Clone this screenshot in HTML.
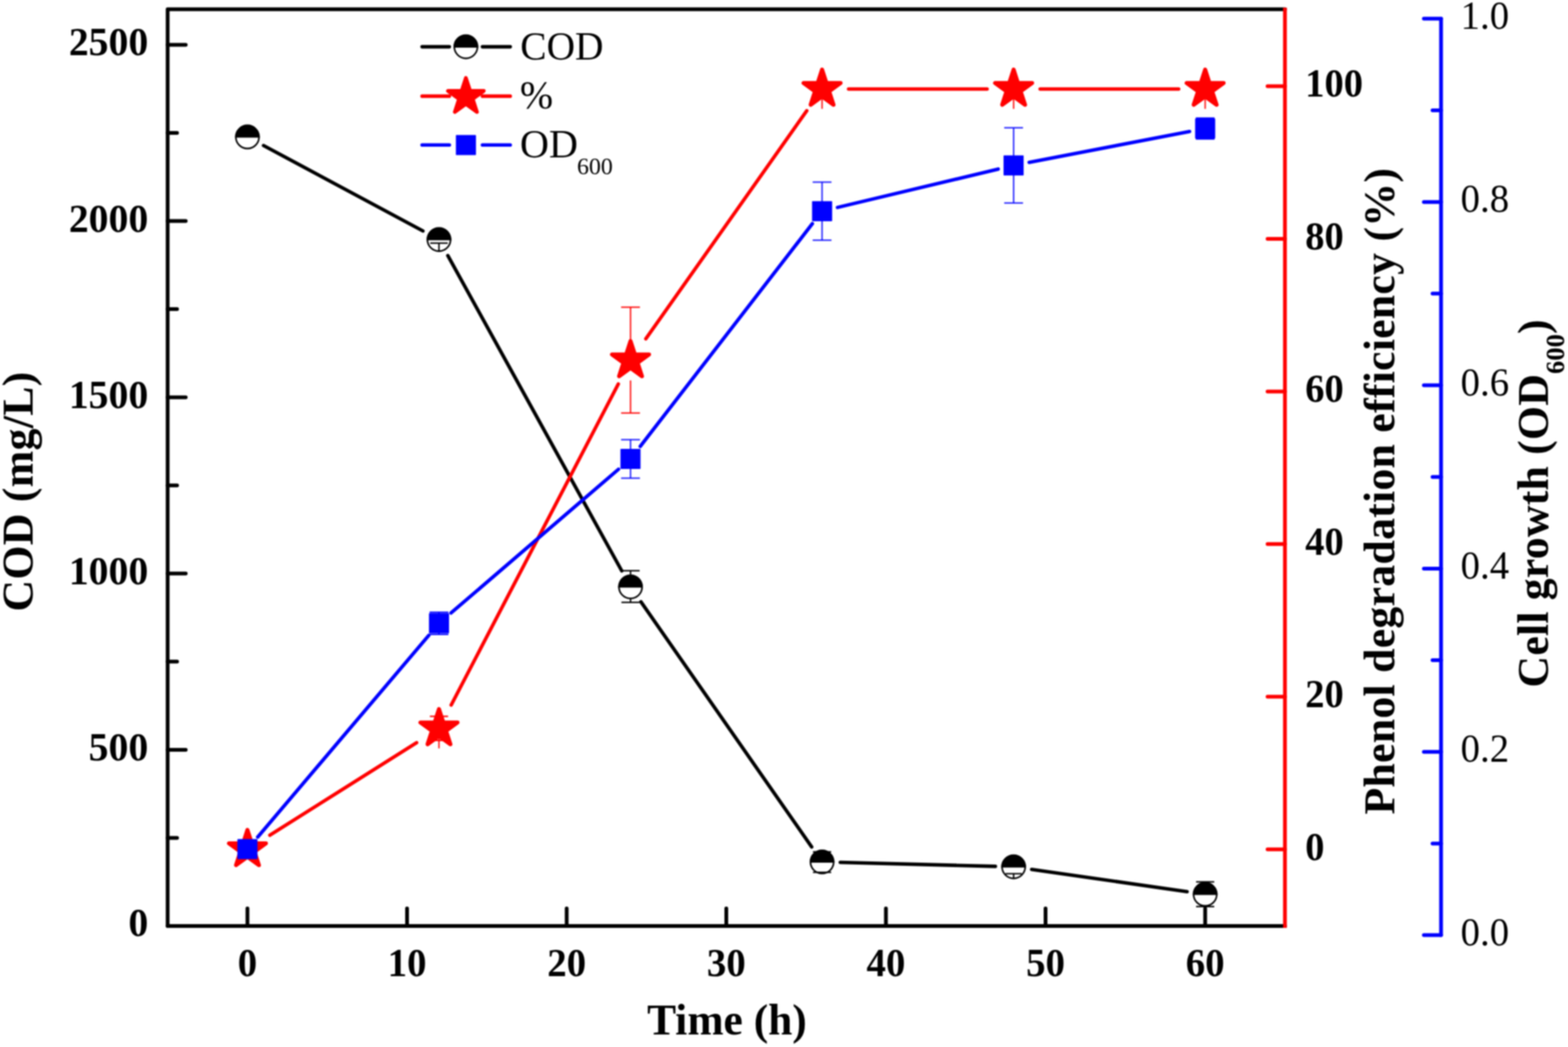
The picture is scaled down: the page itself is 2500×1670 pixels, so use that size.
<!DOCTYPE html>
<html lang="en"><head><meta charset="utf-8"><title>COD, phenol degradation efficiency and cell growth over time</title>
<style>
html,body{margin:0;padding:0;background:#fff;}
body{width:2500px;height:1670px;overflow:hidden;}
svg{display:block;}
text{font-family:"Liberation Serif",serif;fill:#000;}
.b{font-weight:bold;}
.tk{font-size:64px;}
.tt{font-size:70px;font-weight:bold;}
</style></head><body>
<svg width="2500" height="1670" viewBox="0 0 2500 1670">
<defs><filter id="soft" filterUnits="userSpaceOnUse" x="0" y="0" width="2500" height="1670" color-interpolation-filters="sRGB"><feGaussianBlur stdDeviation="0.8"/></filter></defs>
<rect x="0" y="0" width="2500" height="1670" fill="#ffffff"/>
<g filter="url(#soft)">
<rect x="-10" y="-10" width="2520" height="1690" fill="#ffffff"/>
<g id="axes">
<path d="M2048.7 14.7 L267.3 14.7 L267.3 1477.0" fill="none" stroke="#000" stroke-width="6.00" stroke-linejoin="round" stroke-linecap="round"/>
<line x1="267.3" y1="1477.0" x2="2048.7" y2="1477.0" stroke="#000" stroke-width="6.00" stroke-linecap="round"/>
<line x1="267.3" y1="1336.5" x2="282.3" y2="1336.5" stroke="#000" stroke-width="6.00" stroke-linecap="round"/>
<line x1="267.3" y1="1195.9" x2="296.1" y2="1195.9" stroke="#000" stroke-width="6.00" stroke-linecap="round"/>
<line x1="267.3" y1="1055.3" x2="282.3" y2="1055.3" stroke="#000" stroke-width="6.00" stroke-linecap="round"/>
<line x1="267.3" y1="914.8" x2="296.1" y2="914.8" stroke="#000" stroke-width="6.00" stroke-linecap="round"/>
<line x1="267.3" y1="774.2" x2="282.3" y2="774.2" stroke="#000" stroke-width="6.00" stroke-linecap="round"/>
<line x1="267.3" y1="633.7" x2="296.1" y2="633.7" stroke="#000" stroke-width="6.00" stroke-linecap="round"/>
<line x1="267.3" y1="493.1" x2="282.3" y2="493.1" stroke="#000" stroke-width="6.00" stroke-linecap="round"/>
<line x1="267.3" y1="352.6" x2="296.1" y2="352.6" stroke="#000" stroke-width="6.00" stroke-linecap="round"/>
<line x1="267.3" y1="212.0" x2="282.3" y2="212.0" stroke="#000" stroke-width="6.00" stroke-linecap="round"/>
<line x1="267.3" y1="71.5" x2="296.1" y2="71.5" stroke="#000" stroke-width="6.00" stroke-linecap="round"/>
<line x1="394.5" y1="1477.0" x2="394.5" y2="1449.0" stroke="#000" stroke-width="6.00" stroke-linecap="round"/>
<line x1="649.0" y1="1477.0" x2="649.0" y2="1449.0" stroke="#000" stroke-width="6.00" stroke-linecap="round"/>
<line x1="903.5" y1="1477.0" x2="903.5" y2="1449.0" stroke="#000" stroke-width="6.00" stroke-linecap="round"/>
<line x1="1158.0" y1="1477.0" x2="1158.0" y2="1449.0" stroke="#000" stroke-width="6.00" stroke-linecap="round"/>
<line x1="1412.5" y1="1477.0" x2="1412.5" y2="1449.0" stroke="#000" stroke-width="6.00" stroke-linecap="round"/>
<line x1="1667.0" y1="1477.0" x2="1667.0" y2="1449.0" stroke="#000" stroke-width="6.00" stroke-linecap="round"/>
<line x1="1921.5" y1="1477.0" x2="1921.5" y2="1449.0" stroke="#000" stroke-width="6.00" stroke-linecap="round"/>
<line x1="2048.7" y1="12.3" x2="2048.7" y2="1480.0" stroke="#ff0000" stroke-width="6.00" stroke-linecap="butt"/>
<line x1="2048.7" y1="1354.8" x2="2021.0" y2="1354.8" stroke="#ff0000" stroke-width="6.00" stroke-linecap="round"/>
<line x1="2048.7" y1="1111.3" x2="2021.0" y2="1111.3" stroke="#ff0000" stroke-width="6.00" stroke-linecap="round"/>
<line x1="2048.7" y1="867.8" x2="2021.0" y2="867.8" stroke="#ff0000" stroke-width="6.00" stroke-linecap="round"/>
<line x1="2048.7" y1="624.4" x2="2021.0" y2="624.4" stroke="#ff0000" stroke-width="6.00" stroke-linecap="round"/>
<line x1="2048.7" y1="380.9" x2="2021.0" y2="380.9" stroke="#ff0000" stroke-width="6.00" stroke-linecap="round"/>
<line x1="2048.7" y1="137.4" x2="2021.0" y2="137.4" stroke="#ff0000" stroke-width="6.00" stroke-linecap="round"/>
<line x1="2297.6" y1="29.8" x2="2297.6" y2="1491.6" stroke="#0000ff" stroke-width="6.00" stroke-linecap="round"/>
<line x1="2297.6" y1="1491.6" x2="2270.2" y2="1491.6" stroke="#0000ff" stroke-width="6.00" stroke-linecap="round"/>
<line x1="2297.6" y1="1345.4" x2="2284.0" y2="1345.4" stroke="#0000ff" stroke-width="6.00" stroke-linecap="round"/>
<line x1="2297.6" y1="1199.2" x2="2270.2" y2="1199.2" stroke="#0000ff" stroke-width="6.00" stroke-linecap="round"/>
<line x1="2297.6" y1="1053.1" x2="2284.0" y2="1053.1" stroke="#0000ff" stroke-width="6.00" stroke-linecap="round"/>
<line x1="2297.6" y1="906.9" x2="2270.2" y2="906.9" stroke="#0000ff" stroke-width="6.00" stroke-linecap="round"/>
<line x1="2297.6" y1="760.7" x2="2284.0" y2="760.7" stroke="#0000ff" stroke-width="6.00" stroke-linecap="round"/>
<line x1="2297.6" y1="614.5" x2="2270.2" y2="614.5" stroke="#0000ff" stroke-width="6.00" stroke-linecap="round"/>
<line x1="2297.6" y1="468.3" x2="2284.0" y2="468.3" stroke="#0000ff" stroke-width="6.00" stroke-linecap="round"/>
<line x1="2297.6" y1="322.2" x2="2270.2" y2="322.2" stroke="#0000ff" stroke-width="6.00" stroke-linecap="round"/>
<line x1="2297.6" y1="176.0" x2="2284.0" y2="176.0" stroke="#0000ff" stroke-width="6.00" stroke-linecap="round"/>
<line x1="2297.6" y1="29.8" x2="2270.2" y2="29.8" stroke="#0000ff" stroke-width="6.00" stroke-linecap="round"/>
</g>
<g id="cod">
<line x1="420.2" y1="232.1" x2="674.3" y2="368.4" stroke="#000" stroke-width="5.60" stroke-linecap="round"/>
<line x1="714.0" y1="407.6" x2="991.3" y2="910.5" stroke="#000" stroke-width="5.60" stroke-linecap="round"/>
<line x1="1021.9" y1="959.9" x2="1294.1" y2="1350.9" stroke="#000" stroke-width="5.60" stroke-linecap="round"/>
<line x1="1339.8" y1="1375.5" x2="1587.0" y2="1381.9" stroke="#000" stroke-width="5.60" stroke-linecap="round"/>
<line x1="1644.9" y1="1386.7" x2="1892.7" y2="1422.3" stroke="#000" stroke-width="5.60" stroke-linecap="round"/>
<circle cx="394.5" cy="218.4" r="18.5" fill="#fff" stroke="#000" stroke-width="2.6"/>
<path d="M374.7 219.6 A19.8 19.8 0 0 1 414.3 219.6 Z" fill="#000"/>
<circle cx="699.9" cy="382.1" r="18.5" fill="#fff" stroke="#000" stroke-width="2.6"/>
<path d="M680.1 383.3 A19.8 19.8 0 0 1 719.7 383.3 Z" fill="#000"/>
<circle cx="1005.3" cy="936.0" r="18.5" fill="#fff" stroke="#000" stroke-width="2.6"/>
<path d="M985.5 937.2 A19.8 19.8 0 0 1 1025.1 937.2 Z" fill="#000"/>
<circle cx="1310.7" cy="1374.8" r="18.5" fill="#fff" stroke="#000" stroke-width="2.6"/>
<path d="M1290.9 1376.0 A19.8 19.8 0 0 1 1330.5 1376.0 Z" fill="#000"/>
<circle cx="1616.1" cy="1382.6" r="18.5" fill="#fff" stroke="#000" stroke-width="2.6"/>
<path d="M1596.3 1383.8 A19.8 19.8 0 0 1 1635.9 1383.8 Z" fill="#000"/>
<circle cx="1921.5" cy="1426.4" r="18.5" fill="#fff" stroke="#000" stroke-width="2.6"/>
<path d="M1901.7 1427.6 A19.8 19.8 0 0 1 1941.3 1427.6 Z" fill="#000"/>
<line x1="685.9" y1="387.8" x2="713.9" y2="387.8" stroke="#000" stroke-width="2.30" stroke-linecap="butt"/>
<line x1="699.9" y1="387.8" x2="699.9" y2="400.0" stroke="#000" stroke-width="2.30" stroke-linecap="butt"/>
<line x1="990.8" y1="910.3" x2="1019.8" y2="910.3" stroke="#000" stroke-width="2.30" stroke-linecap="butt"/>
<line x1="1005.3" y1="910.3" x2="1005.3" y2="917.0" stroke="#000" stroke-width="2.30" stroke-linecap="butt"/>
<line x1="990.8" y1="960.8" x2="1019.8" y2="960.8" stroke="#000" stroke-width="2.30" stroke-linecap="butt"/>
<line x1="1005.3" y1="955.0" x2="1005.3" y2="960.8" stroke="#000" stroke-width="2.30" stroke-linecap="butt"/>
<line x1="1296.2" y1="1358.7" x2="1325.2" y2="1358.7" stroke="#000" stroke-width="2.30" stroke-linecap="butt"/>
<line x1="1296.2" y1="1391.4" x2="1325.2" y2="1391.4" stroke="#000" stroke-width="2.30" stroke-linecap="butt"/>
<line x1="1603.1" y1="1393.6" x2="1629.1" y2="1393.6" stroke="#000" stroke-width="2.30" stroke-linecap="butt"/>
<line x1="1616.1" y1="1393.6" x2="1616.1" y2="1401.0" stroke="#000" stroke-width="2.30" stroke-linecap="butt"/>
<line x1="1907.0" y1="1406.6" x2="1936.0" y2="1406.6" stroke="#000" stroke-width="2.30" stroke-linecap="butt"/>
<line x1="1907.0" y1="1446.0" x2="1936.0" y2="1446.0" stroke="#000" stroke-width="2.30" stroke-linecap="butt"/>
</g>
<g id="phenol">
<line x1="430.3" y1="1332.2" x2="664.2" y2="1184.6" stroke="#ff0000" stroke-width="5.60" stroke-linecap="round"/>
<line x1="719.4" y1="1124.5" x2="985.8" y2="612.5" stroke="#ff0000" stroke-width="5.60" stroke-linecap="round"/>
<line x1="1029.7" y1="540.4" x2="1286.3" y2="176.6" stroke="#ff0000" stroke-width="5.60" stroke-linecap="round"/>
<line x1="1353.0" y1="142.0" x2="1573.8" y2="142.0" stroke="#ff0000" stroke-width="5.60" stroke-linecap="round"/>
<line x1="1658.4" y1="142.0" x2="1879.2" y2="142.0" stroke="#ff0000" stroke-width="5.60" stroke-linecap="round"/>
<line x1="1005.3" y1="490.0" x2="1005.3" y2="560.0" stroke="#ff0000" stroke-width="2.30" stroke-linecap="butt" stroke-opacity="0.9"/>
<line x1="1005.3" y1="606.8" x2="1005.3" y2="658.8" stroke="#ff0000" stroke-width="2.30" stroke-linecap="butt" stroke-opacity="0.9"/>
<line x1="990.3" y1="490.0" x2="1020.3" y2="490.0" stroke="#ff0000" stroke-width="2.30" stroke-linecap="butt" stroke-opacity="0.9"/>
<line x1="990.3" y1="658.8" x2="1020.3" y2="658.8" stroke="#ff0000" stroke-width="2.30" stroke-linecap="butt" stroke-opacity="0.9"/>
<line x1="1310.7" y1="142.0" x2="1310.7" y2="173.6" stroke="#ff0000" stroke-width="2.30" stroke-linecap="butt" stroke-opacity="0.9"/>
<line x1="1616.1" y1="142.0" x2="1616.1" y2="173.6" stroke="#ff0000" stroke-width="2.30" stroke-linecap="butt" stroke-opacity="0.9"/>
<line x1="1921.5" y1="142.0" x2="1921.5" y2="173.6" stroke="#ff0000" stroke-width="2.30" stroke-linecap="butt" stroke-opacity="0.9"/>
<line x1="699.9" y1="1162.0" x2="699.9" y2="1193.7" stroke="#ff0000" stroke-width="2.30" stroke-linecap="butt" stroke-opacity="0.9"/>
<line x1="685.4" y1="1142.6" x2="714.4" y2="1142.6" stroke="#ff0000" stroke-width="2.30" stroke-linecap="butt"/>
<line x1="685.4" y1="1181.0" x2="714.4" y2="1181.0" stroke="#ff0000" stroke-width="2.30" stroke-linecap="butt"/>
<polygon points="394.5,1323.8 401.5,1345.2 424.0,1345.2 405.8,1358.5 412.8,1379.9 394.5,1366.6 376.3,1379.9 383.3,1358.5 365.1,1345.2 387.6,1345.2" fill="#ff0000" stroke="#ff0000" stroke-width="6.4" stroke-linejoin="round"/>
<polygon points="699.9,1131.0 706.9,1152.4 729.4,1152.4 711.2,1165.7 718.1,1187.1 699.9,1173.8 681.7,1187.1 688.7,1165.7 670.4,1152.4 693.0,1152.4" fill="#ff0000" stroke="#ff0000" stroke-width="6.4" stroke-linejoin="round"/>
<polygon points="1005.3,544.0 1012.3,565.4 1034.8,565.4 1016.6,578.7 1023.5,600.1 1005.3,586.8 987.1,600.1 994.0,578.7 975.8,565.4 998.3,565.4" fill="#ff0000" stroke="#ff0000" stroke-width="6.4" stroke-linejoin="round"/>
<polygon points="1310.7,111.0 1317.7,132.4 1340.2,132.4 1322.0,145.7 1328.9,167.1 1310.7,153.8 1292.5,167.1 1299.4,145.7 1281.2,132.4 1303.7,132.4" fill="#ff0000" stroke="#ff0000" stroke-width="6.4" stroke-linejoin="round"/>
<polygon points="1616.1,111.0 1623.0,132.4 1645.6,132.4 1627.3,145.7 1634.3,167.1 1616.1,153.8 1597.9,167.1 1604.8,145.7 1586.6,132.4 1609.1,132.4" fill="#ff0000" stroke="#ff0000" stroke-width="6.4" stroke-linejoin="round"/>
<polygon points="1921.5,111.0 1928.4,132.4 1950.9,132.4 1932.7,145.7 1939.7,167.1 1921.5,153.8 1903.2,167.1 1910.2,145.7 1892.0,132.4 1914.5,132.4" fill="#ff0000" stroke="#ff0000" stroke-width="6.4" stroke-linejoin="round"/>
</g>
<g id="od600">
<line x1="410.9" y1="1335.1" x2="683.6" y2="1013.5" stroke="#0000ff" stroke-width="5.60" stroke-linecap="round"/>
<line x1="719.1" y1="977.7" x2="986.1" y2="748.5" stroke="#0000ff" stroke-width="5.60" stroke-linecap="round"/>
<line x1="1020.8" y1="712.0" x2="1295.2" y2="356.8" stroke="#0000ff" stroke-width="5.60" stroke-linecap="round"/>
<line x1="1335.3" y1="330.9" x2="1591.5" y2="269.7" stroke="#0000ff" stroke-width="5.60" stroke-linecap="round"/>
<line x1="1640.9" y1="259.0" x2="1896.6" y2="209.8" stroke="#0000ff" stroke-width="5.60" stroke-linecap="round"/>
<line x1="699.9" y1="976.6" x2="699.9" y2="1011.8" stroke="#0000ff" stroke-width="2.30" stroke-linecap="butt"/>
<line x1="684.9" y1="976.6" x2="714.9" y2="976.6" stroke="#0000ff" stroke-width="2.30" stroke-linecap="butt"/>
<line x1="684.9" y1="1011.8" x2="714.9" y2="1011.8" stroke="#0000ff" stroke-width="2.30" stroke-linecap="butt"/>
<line x1="1005.3" y1="701.3" x2="1005.3" y2="762.7" stroke="#0000ff" stroke-width="2.30" stroke-linecap="butt" stroke-opacity="0.85"/>
<line x1="990.3" y1="701.3" x2="1020.3" y2="701.3" stroke="#0000ff" stroke-width="2.30" stroke-linecap="butt" stroke-opacity="0.85"/>
<line x1="990.3" y1="762.7" x2="1020.3" y2="762.7" stroke="#0000ff" stroke-width="2.30" stroke-linecap="butt" stroke-opacity="0.85"/>
<line x1="1310.7" y1="290.5" x2="1310.7" y2="383.1" stroke="#0000ff" stroke-width="2.30" stroke-linecap="butt" stroke-opacity="0.85"/>
<line x1="1295.7" y1="290.5" x2="1325.7" y2="290.5" stroke="#0000ff" stroke-width="2.30" stroke-linecap="butt" stroke-opacity="0.85"/>
<line x1="1295.7" y1="383.1" x2="1325.7" y2="383.1" stroke="#0000ff" stroke-width="2.30" stroke-linecap="butt" stroke-opacity="0.85"/>
<line x1="1616.1" y1="203.8" x2="1616.1" y2="323.8" stroke="#0000ff" stroke-width="2.30" stroke-linecap="butt" stroke-opacity="0.85"/>
<line x1="1601.1" y1="203.8" x2="1631.1" y2="203.8" stroke="#0000ff" stroke-width="2.30" stroke-linecap="butt" stroke-opacity="0.85"/>
<line x1="1601.1" y1="323.8" x2="1631.1" y2="323.8" stroke="#0000ff" stroke-width="2.30" stroke-linecap="butt" stroke-opacity="0.85"/>
<line x1="1921.5" y1="188.4" x2="1921.5" y2="221.6" stroke="#0000ff" stroke-width="2.30" stroke-linecap="butt"/>
<line x1="1906.5" y1="188.4" x2="1936.5" y2="188.4" stroke="#0000ff" stroke-width="2.30" stroke-linecap="butt"/>
<line x1="1906.5" y1="221.6" x2="1936.5" y2="221.6" stroke="#0000ff" stroke-width="2.30" stroke-linecap="butt"/>
<rect x="379.0" y="1338.9" width="31.0" height="31.0" fill="#0000ff" stroke="#0000ff" stroke-width="1" stroke-linejoin="round"/>
<rect x="684.4" y="978.7" width="31.0" height="31.0" fill="#0000ff" stroke="#0000ff" stroke-width="1" stroke-linejoin="round"/>
<rect x="989.8" y="716.5" width="31.0" height="31.0" fill="#0000ff" stroke="#0000ff" stroke-width="1" stroke-linejoin="round"/>
<rect x="1295.2" y="321.3" width="31.0" height="31.0" fill="#0000ff" stroke="#0000ff" stroke-width="1" stroke-linejoin="round"/>
<rect x="1600.6" y="248.3" width="31.0" height="31.0" fill="#0000ff" stroke="#0000ff" stroke-width="1" stroke-linejoin="round"/>
<rect x="1906.0" y="189.5" width="31.0" height="31.0" fill="#0000ff" stroke="#0000ff" stroke-width="1" stroke-linejoin="round"/>
</g>
<g id="legend">
<line x1="673.0" y1="74.6" x2="716.4" y2="74.6" stroke="#000" stroke-width="5.60" stroke-linecap="round"/>
<line x1="769.2" y1="74.6" x2="813.5" y2="74.6" stroke="#000" stroke-width="5.60" stroke-linecap="round"/>
<line x1="673.0" y1="153.4" x2="716.4" y2="153.4" stroke="#ff0000" stroke-width="5.60" stroke-linecap="round"/>
<line x1="769.2" y1="153.4" x2="813.5" y2="153.4" stroke="#ff0000" stroke-width="5.60" stroke-linecap="round"/>
<line x1="673.0" y1="231.2" x2="716.4" y2="231.2" stroke="#0000ff" stroke-width="5.60" stroke-linecap="round"/>
<line x1="769.2" y1="231.2" x2="813.5" y2="231.2" stroke="#0000ff" stroke-width="5.60" stroke-linecap="round"/>
<circle cx="742.8" cy="74.6" r="18.5" fill="#fff" stroke="#000" stroke-width="2.6"/>
<path d="M723.0 75.9 A19.8 19.8 0 0 1 762.6 75.9 Z" fill="#000"/>
<polygon points="742.8,124.3 749.5,145.0 771.3,145.0 753.7,157.8 760.4,178.6 742.8,165.8 725.2,178.6 731.9,157.8 714.3,145.0 736.1,145.0" fill="#ff0000" stroke="#ff0000" stroke-width="6.0" stroke-linejoin="round"/>
<rect x="727.3" y="215.9" width="31.0" height="31.0" fill="#0000ff" stroke="#0000ff" stroke-width="1" stroke-linejoin="round"/>
<text class="tk" transform="translate(829.5 95.4) scale(0.982 1)">COD</text>
<text class="tk" transform="translate(829 172.8) scale(0.99 1)">%</text>
<text class="tk" x="829" y="251.0">OD<tspan font-size="38" dx="-1.5" dy="26.5">600</tspan></text>
</g>
<g id="ticklabels">
<text class="tk b" text-anchor="end" transform="translate(236.4 1493.2) scale(0.990 1)">0</text>
<text class="tk b" text-anchor="end" transform="translate(236.4 1212.8) scale(0.990 1)">500</text>
<text class="tk b" text-anchor="end" transform="translate(236.4 931.7) scale(0.990 1)">1000</text>
<text class="tk b" text-anchor="end" transform="translate(236.4 650.6) scale(0.990 1)">1500</text>
<text class="tk b" text-anchor="end" transform="translate(236.4 369.5) scale(0.990 1)">2000</text>
<text class="tk b" text-anchor="end" transform="translate(236.4 88.4) scale(0.990 1)">2500</text>
<text class="tk b" text-anchor="middle" transform="translate(394.5 1557.2) scale(0.970 1)">0</text>
<text class="tk b" text-anchor="middle" transform="translate(649.0 1557.2) scale(0.970 1)">10</text>
<text class="tk b" text-anchor="middle" transform="translate(903.5 1557.2) scale(0.970 1)">20</text>
<text class="tk b" text-anchor="middle" transform="translate(1158.0 1557.2) scale(0.970 1)">30</text>
<text class="tk b" text-anchor="middle" transform="translate(1412.5 1557.2) scale(0.970 1)">40</text>
<text class="tk b" text-anchor="middle" transform="translate(1667.0 1557.2) scale(0.970 1)">50</text>
<text class="tk b" text-anchor="middle" transform="translate(1921.5 1557.2) scale(0.970 1)">60</text>
<text class="tk b" text-anchor="start" transform="translate(2081.0 1371.6) scale(0.960 1)">0</text>
<text class="tk b" text-anchor="start" transform="translate(2081.0 1128.1) scale(0.960 1)">20</text>
<text class="tk b" text-anchor="start" transform="translate(2081.0 884.6) scale(0.960 1)">40</text>
<text class="tk b" text-anchor="start" transform="translate(2081.0 641.2) scale(0.960 1)">60</text>
<text class="tk b" text-anchor="start" transform="translate(2081.0 397.7) scale(0.960 1)">80</text>
<text class="tk b" text-anchor="start" transform="translate(2081.0 154.2) scale(0.960 1)">100</text>
<text class="tk" text-anchor="end" transform="translate(2406.0 1507.8) scale(0.965 1)">0.0</text>
<text class="tk" text-anchor="end" transform="translate(2406.0 1215.4) scale(0.965 1)">0.2</text>
<text class="tk" text-anchor="end" transform="translate(2406.0 923.1) scale(0.965 1)">0.4</text>
<text class="tk" text-anchor="end" transform="translate(2406.0 630.7) scale(0.965 1)">0.6</text>
<text class="tk" text-anchor="end" transform="translate(2406.0 338.4) scale(0.965 1)">0.8</text>
<text class="tk" text-anchor="end" transform="translate(2406.0 46.0) scale(0.965 1)">1.0</text>
</g>
<g id="titles">
<text class="tt" text-anchor="middle" transform="translate(1159.0 1650.2) scale(0.99 1)">Time (h)</text>
<text class="tt" text-anchor="middle" transform="translate(52.3 784) rotate(-90)" letter-spacing="0.4">COD (mg/L)</text>
<text class="tt" text-anchor="middle" transform="translate(2223.0 783.5) rotate(-90)" letter-spacing="0.33">Phenol degradation efficiency (%)</text>
<text class="tt" text-anchor="middle" transform="translate(2467.5 802.9) rotate(-90)" letter-spacing="0.25">Cell growth (OD<tspan font-size="42" dy="26.3">600</tspan><tspan dy="-26.3">)</tspan></text>
</g>
</g>
</svg>
</body></html>
